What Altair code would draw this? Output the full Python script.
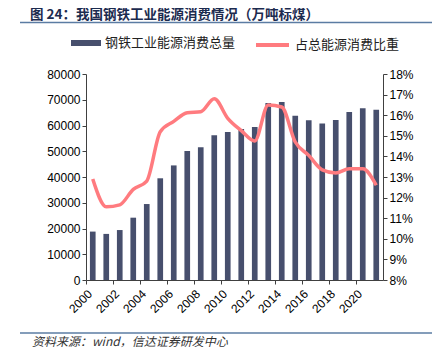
import altair as alt
import pandas as pd

years = list(range(2000, 2022))
consumption = [18800, 17900, 19400, 24200, 29500, 39500, 44500, 50100, 51600, 56200, 57500,
               58600, 59400, 68700, 69100, 63800, 62000, 60800, 62100, 65200, 66700, 66100]
share_pct = [12.9, 11.55, 11.65, 12.4, 12.8, 15.2, 15.7, 16.12, 16.17, 16.8, 15.85,
             15.25, 14.75, 16.5, 16.4, 14.7, 14.05, 13.35, 13.2, 13.4, 13.4, 12.6]
x_label_years = list(range(2000, 2021, 2))
left_ticks = list(range(0, 80001, 10000))
right_ticks = list(range(8, 19))

title_text = "图 24：我国钢铁工业能源消费情况（万吨标煤）"
source_text = "资料来源：wind，信达证券研发中心"
bar_name = "钢铁工业能源消费总量"
line_name = "占总能源消费比重"

df = pd.DataFrame({"year": years, "consumption": consumption, "share": share_pct,
                   "s1": bar_name, "s2": line_name})

W, H = 297, 206
BAR_COLOR = "#474f6d"
LINE_COLOR = "#ff7b7f"
AX_COLOR = "#404040"
FONT = "Liberation Sans"
CJK = "Noto Sans CJK SC"

xenc = alt.X(
    "year:O",
    scale=alt.Scale(paddingInner=0.58, paddingOuter=0.29),
    axis=alt.Axis(
        title=None, values=x_label_years, labelAngle=-45, tickSize=4, tickOffset=-W / 44,
        labelPadding=4, labelFont=FONT, labelFontSize=12, labelColor="#000000",
        domainColor=AX_COLOR, tickColor=AX_COLOR, labelOverlap=False, labelBound=False,
    ),
)

bars = alt.Chart(df).mark_bar().encode(
    x=xenc,
    y=alt.Y(
        "consumption:Q",
        scale=alt.Scale(domain=[0, 80000], nice=False),
        axis=alt.Axis(
            title=None, values=left_ticks, format="d", tickSize=4, labelPadding=2,
            labelFont=FONT, labelFontSize=12, labelColor="#000000",
            domainColor=AX_COLOR, tickColor=AX_COLOR, grid=False,
        ),
    ),
    fill=alt.Fill(
        "s1:N",
        scale=alt.Scale(range=[BAR_COLOR]),
        legend=alt.Legend(
            title=None, orient="none", legendX=-15, legendY=-46, padding=0,
            symbolType="M-1,-0.2H1V0.2H-1Z", symbolSize=900, symbolStrokeWidth=0,
            labelFont=CJK, labelFontSize=13, labelColor="#222222", labelOffset=4,
        ),
    ),
)

line = alt.Chart(df).mark_line(strokeWidth=3.5, interpolate="monotone").encode(
    x=alt.X("year:O"),
    y=alt.Y(
        "share:Q",
        scale=alt.Scale(domain=[8, 18], nice=False),
        axis=alt.Axis(
            title=None, orient="right", values=right_ticks, labelExpr="datum.value + '%'",
            tickSize=4, labelPadding=2, labelFont=FONT, labelFontSize=12,
            labelColor="#000000", domainColor=AX_COLOR, tickColor=AX_COLOR, grid=False,
        ),
    ),
    stroke=alt.Stroke(
        "s2:N",
        scale=alt.Scale(range=[LINE_COLOR]),
        legend=alt.Legend(
            title=None, orient="none", legendX=168, legendY=-47.5, padding=0,
            symbolType="stroke", symbolSize=1089, symbolStrokeWidth=4,
            labelFont=CJK, labelFontSize=13, labelColor="#222222", labelOffset=4,
        ),
    ),
)

deco = pd.DataFrame({"t": [title_text]})
title = alt.Chart(deco).mark_text(
    align="left", baseline="middle", font=CJK, fontSize=13.5, fontWeight="bold", color="#1c2b4f"
).encode(text="t:N", x=alt.value(-56), y=alt.value(-59.25))

src = pd.DataFrame({"t": [source_text]})
source = alt.Chart(src).mark_text(
    align="left", baseline="middle", font=CJK, fontSize=12, fontStyle="italic", color="#333333"
).encode(text="t:N", x=alt.value(-54), y=alt.value(268))

rule_top = alt.Chart(deco).mark_rule(color="#5b7ca3", strokeWidth=1.5).encode(
    x=alt.value(-66), x2=alt.value(346), y=alt.value(-51.5)
)
rule_bot = alt.Chart(src).mark_rule(color="#5b7ca3", strokeWidth=1.5).encode(
    x=alt.value(-66), x2=alt.value(346), y=alt.value(259)
)

chart = alt.layer(bars, line, title, source, rule_top, rule_bot).resolve_scale(
    y="independent"
).properties(
    width=W, height=H,
    autosize=alt.AutoSizeParams(type="none"),
    padding={"left": 78, "top": 66, "right": 54, "bottom": 74},
    background="white",
).configure_view(stroke=None)

chart.save("out.html", embed_options={"renderer": "svg", "actions": False})
